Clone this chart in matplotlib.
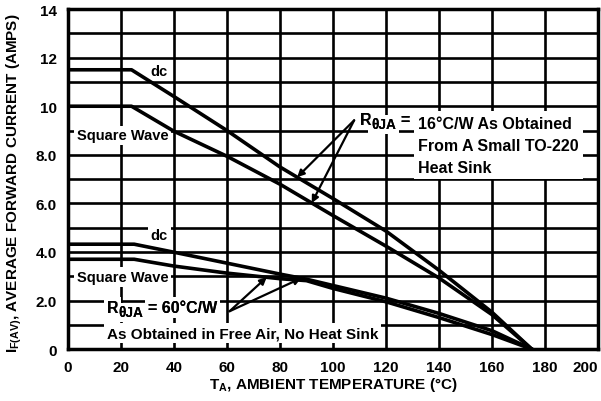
import numpy as np
import matplotlib
matplotlib.use("Agg")
import matplotlib.pyplot as plt

plt.rcParams['font.family'] = ['Liberation Sans', 'DejaVu Sans']
plt.rcParams['font.weight'] = 'bold'
plt.rcParams['axes.labelweight'] = 'bold'
plt.rcParams['mathtext.fontset'] = 'custom'
plt.rcParams['mathtext.rm'] = 'Liberation Sans:bold'
plt.rcParams['mathtext.it'] = 'Liberation Sans:bold'
plt.rcParams['mathtext.bf'] = 'Liberation Sans:bold'

# heat sink curves (R = 16 C/W)
temp_hs = [0, 24, 40, 60, 80, 100, 120, 140, 160, 175]
dc_hs = [11.5, 11.5, 10.4, 9.0, 7.5, 6.2, 4.86, 3.25, 1.52, 0]
sq_hs = [10.0, 10.0, 8.97, 7.94, 6.79, 5.5, 4.24, 2.93, 1.42, 0]

# free air curves (R = 60 C/W)
temp_fa = [0, 25, 40, 60, 80, 90, 100, 120, 140, 160, 175]
dc_fa = [4.32, 4.32, 3.99, 3.54, 3.09, 2.88, 2.62, 2.1, 1.47, 0.76, 0]
sq_fa = [3.7, 3.7, 3.42, 3.13, 2.9, 2.82, 2.5, 1.95, 1.3, 0.6, 0]

xticks = [0, 20, 40, 60, 80, 100, 120, 140, 160, 180, 200]
yticks = [0, 2, 4, 6, 8, 10, 12, 14]
ylabels = ['0', '2.0', '4.0', '6.0', '8.0', '10', '12', '14']

fig = plt.figure(figsize=(6.01, 4.02), dpi=100)
ax = fig.add_axes([0.113, 0.129, 0.882, 0.846])

ax.set_xlim(0, 200)
ax.set_ylim(0, 14)
ax.set_xticks(xticks)
ax.set_yticks(yticks)
ax.set_yticks(range(1, 14, 2), minor=True)
ax.set_yticklabels(ylabels)
ax.tick_params(which='both', length=0, pad=8, labelsize=11)
ax.xaxis.get_majorticklabels()[-1].set_horizontalalignment('right')
ax.grid(True, which='both', color='black', lw=1.9)
ax.set_axisbelow(True)
for s in ax.spines.values():
    s.set_linewidth(2.5)

lw = 2.6
ax.plot(temp_hs, dc_hs, color='black', lw=lw, zorder=5)
ax.plot(temp_hs, sq_hs, color='black', lw=lw, zorder=5)
ax.plot(temp_fa, dc_fa, color='black', lw=lw, zorder=5)
ax.plot(temp_fa, sq_fa, color='black', lw=lw, zorder=5)

box = dict(facecolor='white', edgecolor='none', pad=2)
fs = 10.5
ax.text(34.5, 11.45, 'dc', ha='center', va='center', fontsize=fs, bbox=box, zorder=3)
ax.text(3.4, 8.8, 'Square Wave', ha='left', va='center', fontsize=fs, bbox=box, zorder=3)
ax.text(34.5, 4.7, 'dc', ha='center', va='center', fontsize=fs, bbox=box, zorder=3)
ax.text(3.4, 2.96, 'Square Wave', ha='left', va='center', fontsize=fs, bbox=box, zorder=3)


def r_theta(x, y, rest, size):
    # R with a large theta-JA subscript, then the rest of the line;
    # first pass paints white boxes, second pass the black text on top
    for z, bb in [(3, box), (3.5, None)]:
        r = ax.text(x, y, 'R', ha='left', va='center', fontsize=size, bbox=bb, zorder=z)
        sub = ax.annotate('θJA', xy=(1, 0.5), xycoords=r, xytext=(0, -3.5),
                          textcoords='offset points', ha='left', va='center',
                          fontsize=size * 0.85, bbox=bb, zorder=z)
        ax.annotate(rest, xy=(1, 0.5), xycoords=sub, xytext=(3, 3.5),
                    textcoords='offset points', ha='left', va='center',
                    fontsize=size, bbox=bb, zorder=z)


# upper note
r_theta(110, 9.45, '=', 11.5)
ax.text(132, 8.4, '16°C/W As Obtained\nFrom A Small TO-220\nHeat Sink', ha='left',
        va='center', fontsize=11.5, linespacing=1.58,
        bbox=dict(facecolor='white', edgecolor='none', pad=3), zorder=3)
tail = (108, 9.42)
for xs, ys, xh in [(temp_hs, dc_hs, 86.5), (temp_hs, sq_hs, 92)]:
    ax.annotate('', xy=(xh, np.interp(xh, xs, ys)), xytext=tail,
                arrowprops=dict(arrowstyle='-|>', color='black', lw=1.6,
                                mutation_scale=10, shrinkA=0, shrinkB=0), zorder=6)

# lower note
r_theta(14.7, 1.72, '= 60°C/W', 11.5)
ax.text(14.7, 0.66, 'As Obtained in Free Air, No Heat Sink', ha='left', va='center',
        fontsize=11, bbox=box, zorder=3)
tail = (61, 1.56)
for xs, ys, xh in [(temp_fa, sq_fa, 75), (temp_fa, dc_fa, 88)]:
    ax.annotate('', xy=(xh, np.interp(xh, xs, ys)), xytext=tail,
                arrowprops=dict(arrowstyle='-|>', color='black', lw=1.6,
                                mutation_scale=10, shrinkA=0, shrinkB=0), zorder=6)

ax.set_xlabel(r'T$_{A}$, AMBIENT TEMPERATURE (°C)', fontsize=11)
ax.xaxis.set_label_coords(0.5, -0.075)
ax.set_ylabel(r'I$_{F(AV)}$, AVERAGE FORWARD CURRENT (AMPS)', fontsize=11)
ax.yaxis.set_label_coords(-0.082, 0.49)

fig.savefig('out.png', dpi=100)
